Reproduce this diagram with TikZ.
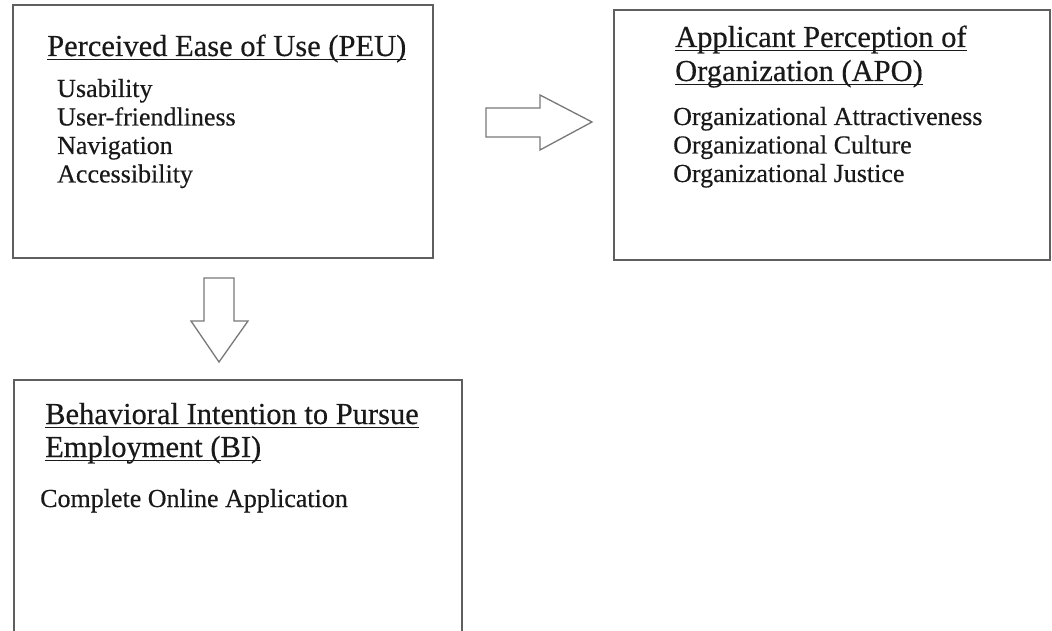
\documentclass[tikz,border=0pt]{standalone}
\usepackage{fontspec}
\setmainfont{Liberation Serif}[FakeBold=0.4]
\definecolor{boxline}{RGB}{95,95,95}
\definecolor{arrline}{RGB}{120,120,120}
\definecolor{txt}{RGB}{25,25,25}
\begin{document}
\begin{tikzpicture}[x=1pt,y=-1pt,
  panel/.style={draw=boxline,line width=1.6pt},
  blockarrow/.style={draw=arrline,line width=1.3pt,fill=white,line join=miter},
  ttl/.style={anchor=base west,inner sep=0pt,text=txt,font=\fontsize{30.5}{34}\selectfont},
  itm/.style={anchor=base west,inner sep=0pt,text=txt,font=\fontsize{26}{29}\selectfont},
  uline/.style={draw=txt,line width=1.1pt}]
\useasboundingbox (0,0) rectangle (1052,631);
\fill[white] (0,0) rectangle (1052,631);
% boxes
\draw[panel] (13,5) rectangle (433,258);
\draw[panel] (614,10) rectangle (1050,260);
\draw[panel] (14,380) rectangle (462,632);
% PEU
\node[ttl] (peu) at (47,56) {Perceived Ease of Use (PEU)};
\draw[uline] ([yshift=-3.5pt]peu.base west) -- ([yshift=-3.5pt]peu.base east);
\node[itm] (u1) at (57,97) {Usability};
\node[itm] (u2) at (57,125.5) {User-friendliness};
\node[itm] (u3) at (57,154) {Navigation};
\node[itm] (u4) at (57,182.5) {Accessibility};
% APO
\node[ttl] (apo1) at (675,47) {Applicant Perception of};
\draw[uline] ([yshift=-3.5pt]apo1.base west) -- ([yshift=-3.5pt]apo1.base east);
\node[ttl] (apo2) at (675,81) {Organization (APO)};
\draw[uline] ([yshift=-3.5pt]apo2.base west) -- ([yshift=-3.5pt]apo2.base east);
\node[itm] (o1) at (673,125) {Organizational Attractiveness};
\node[itm] (o2) at (673,153.5) {Organizational Culture};
\node[itm] (o3) at (673,182) {Organizational Justice};
% BI
\node[ttl] (bi1) at (45,424) {Behavioral Intention to Pursue};
\draw[uline] ([yshift=-3.5pt]bi1.base west) -- ([yshift=-3.5pt]bi1.base east);
\node[ttl] (bi2) at (45,457) {Employment (BI)};
\draw[uline] ([yshift=-3.5pt]bi2.base west) -- ([yshift=-3.5pt]bi2.base east);
\node[itm] (b1) at (40,507) {Complete Online Application};
% arrows
\draw[blockarrow] (486,108) -- (540,108) -- (540,95) -- (592,122) -- (540,150) -- (540,137) -- (486,137) -- cycle;
\draw[blockarrow] (204,278) -- (234,278) -- (234,321) -- (248,321) -- (219,362) -- (191,321) -- (204,321) -- cycle;
\end{tikzpicture}
\end{document}
